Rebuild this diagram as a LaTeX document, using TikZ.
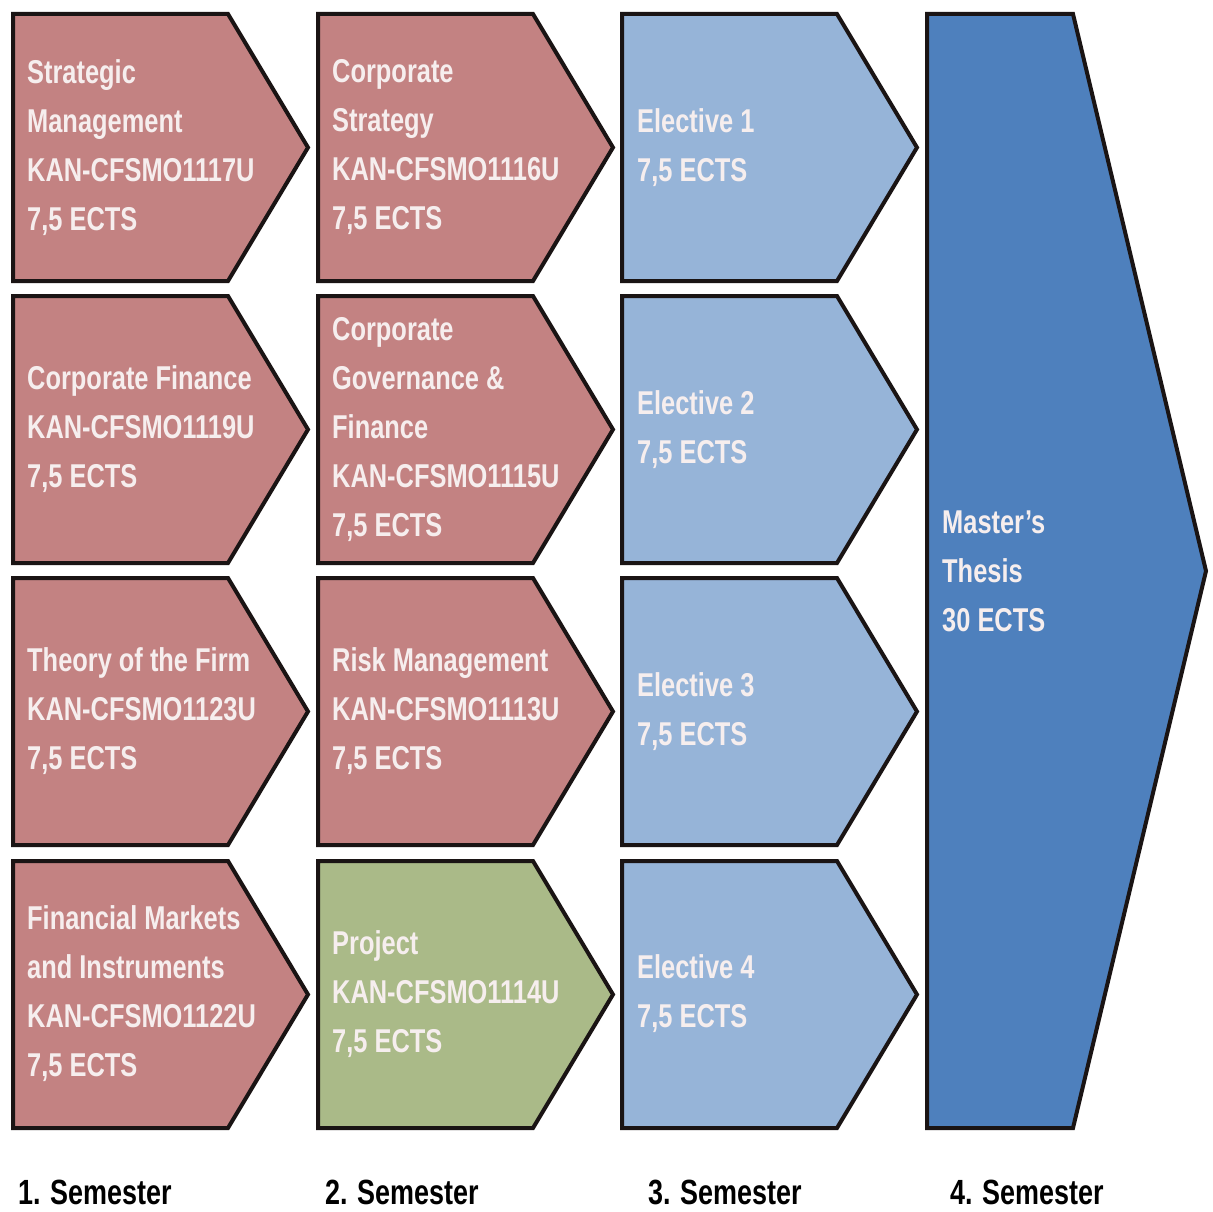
\documentclass[tikz,border=0pt]{standalone}
\usepackage{fontspec}
\setmainfont{Liberation Sans}[FakeStretch=0.77]
\definecolor{cred}{HTML}{C38282}
\definecolor{cgreen}{HTML}{AABA88}
\definecolor{clblue}{HTML}{96B4D8}
\definecolor{cdblue}{HTML}{4E80BD}
\definecolor{ctext}{HTML}{F6EEEE}
\definecolor{cline}{HTML}{1A1414}
\newcommand\chevshape[3]{%
  \draw[box, fill=#3] (#1,#2) -- ++(215,0) -- ++(80,133.5) -- ++(-80,133.5) -- ++(-215,0) -- cycle;}
\begin{document}
\begin{tikzpicture}[x=1pt,y=-1pt,
  box/.style={draw=cline, line width=4pt, line join=miter},
  txt/.style={anchor=west, inner sep=0pt, align=left, text=ctext,
    font=\fontsize{33}{49}\selectfont\bfseries},
  sem/.style={anchor=west, inner sep=0pt, text=black,
    font=\fontsize{35}{40}\selectfont\bfseries}]
\useasboundingbox (0,0) rectangle (1213,1212);
\fill[white] (0,0) rectangle (1213,1212);

% column 1
\chevshape{13}{14}{cred}
\chevshape{13}{296}{cred}
\chevshape{13}{578}{cred}
\chevshape{13}{861}{cred}
% column 2
\chevshape{318}{14}{cred}
\chevshape{318}{296}{cred}
\chevshape{318}{578}{cred}
\chevshape{318}{861}{cgreen}
% column 3
\chevshape{622}{14}{clblue}
\chevshape{622}{296}{clblue}
\chevshape{622}{578}{clblue}
\chevshape{622}{861}{clblue}
% column 4
\draw[box, fill=cdblue] (927,14) -- (1073,14) -- (1206,571) -- (1073,1128) -- (927,1128) -- cycle;

\node[txt] (a1) at (27,147.5) {Strategic\\Management\\KAN-CFSMO1117U\\7,5 ECTS};
\node[txt] (a2) at (27,429.5) {Corporate Finance\\KAN-CFSMO1119U\\7,5 ECTS};
\node[txt] (a3) at (27,711.5) {Theory of the Firm\\KAN-CFSMO1123U\\7,5 ECTS};
\node[txt] (a4) at (27,994) {Financial Markets\\and Instruments\\KAN-CFSMO1122U\\7,5 ECTS};

\node[txt] (b1) at (332,147.5) {Corporate\\Strategy\\KAN-CFSMO1116U\\7,5 ECTS};
\node[txt] (b2) at (332,429.5) {Corporate\\Governance \&\\Finance\\KAN-CFSMO1115U\\7,5 ECTS};
\node[txt] (b3) at (332,711.5) {Risk Management\\KAN-CFSMO1113U\\7,5 ECTS};
\node[txt] (b4) at (332,994) {Project\\KAN-CFSMO1114U\\7,5 ECTS};

\node[txt] (c1) at (637,147.5) {Elective 1\\7,5 ECTS};
\node[txt] (c2) at (637,429.5) {Elective 2\\7,5 ECTS};
\node[txt] (c3) at (637,711.5) {Elective 3\\7,5 ECTS};
\node[txt] (c4) at (637,994) {Elective 4\\7,5 ECTS};

\node[txt] (d1) at (942,571) {Master’s\\Thesis\\30 ECTS};

\node[sem] (s1) at (18,1192) {1. Semester};
\node[sem] (s2) at (325,1192) {2. Semester};
\node[sem] (s3) at (648,1192) {3. Semester};
\node[sem] (s4) at (950,1192) {4. Semester};
\end{tikzpicture}
\end{document}
